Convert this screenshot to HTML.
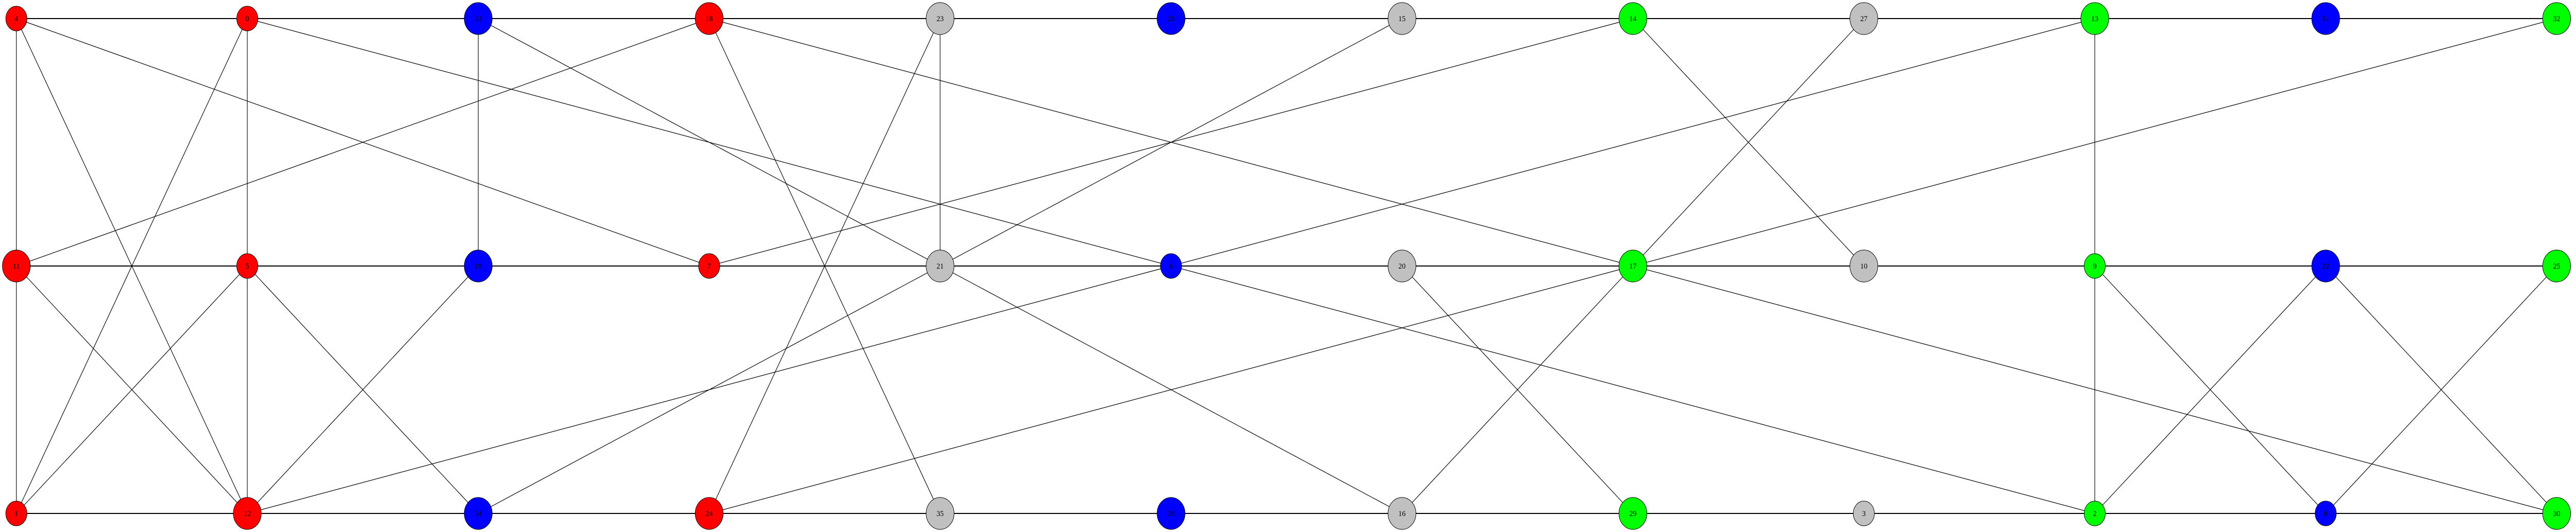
<!DOCTYPE html>
<html>
<head>
<meta charset="utf-8">
<style>
  html,body{margin:0;padding:0;background:#fff;overflow:hidden;width:100%;height:100%;}
  svg{display:block;width:100vw;height:100vh;}
  text{font-family:"Liberation Serif",serif;font-size:15px;}
</style>
</head>
<body>
<svg id="chart" viewBox="0 0 5352 1032" preserveAspectRatio="none" xmlns="http://www.w3.org/2000/svg">
  <g id="edges"></g>
  <g id="nodes"></g>
</svg>
<script>
// Node labels per row (columns left to right)
const topRow = ["4","0","33","18","23","26","15","14","27","13","31","32"];
const midRow = ["11","5","19","7","21","6","20","17","10","9","22","25"];
const botRow = ["1","12","34","24","35","28","16","29","3","2","8","30"];
// Node colour groups per row
const topColors = ["red","red","blue","red","gray","blue","gray","green","gray","green","blue","green"];
const midColors = ["red","red","blue","red","gray","blue","gray","green","gray","green","blue","green"];
const botColors = ["red","red","blue","red","gray","blue","gray","green","gray","green","blue","green"];
// Small nodes
const smallNodes = ["4","0","5","7","6","9","1","3","2","8"];
// Non-row edges
const edges = [
  ["4","11"],["4","12"],["4","7"],
  ["0","5"],["0","1"],["0","6"],
  ["33","19"],["33","21"],
  ["18","11"],["18","35"],["18","17"],
  ["23","21"],["23","24"],
  ["15","21"],["14","7"],["14","10"],
  ["27","17"],["13","9"],["13","6"],["32","17"],
  ["11","1"],["11","12"],
  ["5","12"],["5","1"],["5","34"],
  ["19","12"],["6","12"],["6","2"],
  ["21","34"],["21","16"],["20","29"],
  ["17","24"],["17","16"],["17","30"],
  ["9","2"],["9","8"],["22","2"],["22","30"],["25","8"]
];

const fillMap = {red:"#ff0000", blue:"#0000ff", gray:"#c0c0c0", green:"#00ff00"};
const rows = [topRow, midRow, botRow];
const rowColors = [topColors, midColors, botColors];
const xOf = c => 34 + c * 479.8;
const yOf = r => [36, 516, 996][r];
const pos = {};
rows.forEach((row, r) => row.forEach((lab, c) => { pos[lab] = {x: xOf(c), y: yOf(r), col: rowColors[r][c]}; }));

const NS = "http://www.w3.org/2000/svg";
const eg = document.getElementById("edges");
const ng = document.getElementById("nodes");

rows.forEach((row, r) => {
  for (let i = 0; i < row.length - 1; i++) {
    const a = pos[row[i]], b = pos[row[i+1]];
    const l = document.createElementNS(NS, "line");
    l.setAttribute("x1", a.x); l.setAttribute("y1", a.y);
    l.setAttribute("x2", b.x); l.setAttribute("y2", b.y);
    l.setAttribute("stroke", "#000"); l.setAttribute("stroke-width", "2");
    
    
    eg.appendChild(l);
  }
});
edges.forEach(([s, t]) => {
  const a = pos[s], b = pos[t];
  const l = document.createElementNS(NS, "line");
  l.setAttribute("x1", a.x); l.setAttribute("y1", a.y);
  l.setAttribute("x2", b.x); l.setAttribute("y2", b.y);
  l.setAttribute("stroke", "#000"); l.setAttribute("stroke-width", "1.2");
  
  
  eg.appendChild(l);
});
Object.keys(pos).forEach(lab => {
  const p = pos[lab];
  const small = smallNodes.includes(lab);
  const g = document.createElementNS(NS, "g");
  
  
  const e = document.createElementNS(NS, "ellipse");
  e.setAttribute("cx", p.x); e.setAttribute("cy", p.y);
  e.setAttribute("rx", small ? 22 : 29); e.setAttribute("ry", small ? 24 : 31);
  e.setAttribute("fill", fillMap[p.col]); e.setAttribute("stroke", "#000"); e.setAttribute("stroke-width", "1");
  g.appendChild(e);
  const t = document.createElementNS(NS, "text");
  t.setAttribute("x", p.x); t.setAttribute("y", p.y + 5);
  t.setAttribute("text-anchor", "middle");
  t.textContent = lab;
  g.appendChild(t);
  ng.appendChild(g);
});
</script>
</body>
</html>
